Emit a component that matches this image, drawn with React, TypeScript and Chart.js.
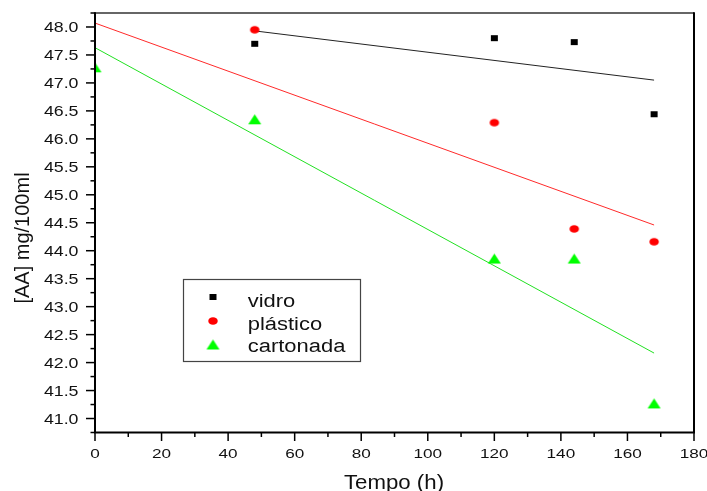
import React, { useEffect, useRef } from "react";
import { Chart, registerables } from "chart.js";

Chart.register(...registerables);

// ---- data ----
const vidroHours = [48, 120, 144, 168];
const vidroValues = [47.7, 47.8, 47.73, 46.44];
const plasticoHours = [48, 120, 144, 168];
const plasticoValues = [47.95, 46.29, 44.39, 44.16];
const cartonadaHours = [0, 48, 120, 144, 168];
const cartonadaValues = [47.28, 46.35, 43.86, 43.86, 41.27];

// linear fits (end points)
const vidroFitHours = [48, 168];
const vidroFitValues = [47.93, 47.05];
const plasticoFitHours = [0, 168];
const plasticoFitValues = [48.07, 44.46];
const cartonadaFitHours = [0, 168];
const cartonadaFitValues = [47.63, 42.17];

const seriesNames = ["vidro", "plástico", "cartonada"];
const xTickLabels = ["0", "20", "40", "60", "80", "100", "120", "140", "160", "180"];
const yTickLabels = ["41.0", "41.5", "42.0", "42.5", "43.0", "43.5", "44.0", "44.5", "45.0", "45.5", "46.0", "46.5", "47.0", "47.5", "48.0"];
const xTitle = "Tempo (h)";
const yTitle = "[AA] mg/100ml";

const FONT = "'Liberation Sans', Arial, sans-serif";

function toPoints(xs: number[], ys: number[]) {
  return xs.map((x, i) => ({ x, y: ys[i] }));
}

function makeMarker(kind: string, color: string, w: number, h: number) {
  const c = document.createElement("canvas");
  c.width = Math.ceil(w) + 2;
  c.height = Math.ceil(h) + 2;
  const ctx = c.getContext("2d")!;
  ctx.fillStyle = color;
  const cx = c.width / 2;
  const cy = c.height / 2;
  if (kind === "rect") {
    ctx.fillRect(cx - w / 2, cy - h / 2, w, h);
  } else if (kind === "ellipse") {
    ctx.beginPath();
    ctx.ellipse(cx, cy, w / 2, h / 2, 0, 0, Math.PI * 2);
    ctx.fill();
  } else {
    ctx.beginPath();
    ctx.moveTo(cx, cy - h / 2);
    ctx.lineTo(cx + w / 2, cy + h / 2);
    ctx.lineTo(cx - w / 2, cy + h / 2);
    ctx.closePath();
    ctx.fill();
  }
  return c;
}

function stretchText(
  ctx: CanvasRenderingContext2D,
  text: string,
  x: number,
  y: number,
  sx: number,
  align: CanvasTextAlign,
  font: string
) {
  ctx.save();
  ctx.translate(x, y);
  ctx.scale(sx, 1);
  ctx.font = font;
  ctx.textAlign = align;
  ctx.textBaseline = "alphabetic";
  ctx.fillText(text, 0, 0);
  ctx.restore();
}

export default function App() {
  const ref = useRef<HTMLCanvasElement | null>(null);

  useEffect(() => {
    const canvas = ref.current;
    if (!canvas) return;

    const sq = makeMarker("rect", "#000000", 7, 6);
    const circ = makeMarker("ellipse", "#ff0000", 9.5, 7.5);
    const tri = makeMarker("tri", "#00ff00", 13, 10);
    const markers = [sq, circ, tri];

    const decor = {
      id: "decor",
      afterDraw(chart: any) {
        const ctx: CanvasRenderingContext2D = chart.ctx;
        const a = chart.chartArea;
        const xs = chart.scales.x;
        const ys = chart.scales.y;
        ctx.save();

        // frame
        ctx.strokeStyle = "#333";
        ctx.lineWidth = 1.5;
        ctx.beginPath();
        ctx.moveTo(a.left, a.top);
        ctx.lineTo(a.right, a.top);
        ctx.stroke();
        ctx.strokeStyle = "#000";
        ctx.lineWidth = 2;
        ctx.beginPath();
        ctx.moveTo(a.right, a.top - 0.75);
        ctx.lineTo(a.right, a.bottom);
        ctx.stroke();
        ctx.beginPath();
        ctx.moveTo(a.left, a.top - 0.75);
        ctx.lineTo(a.left, a.bottom);
        ctx.lineTo(a.right + 1, a.bottom);
        ctx.stroke();

        // y ticks
        ctx.lineWidth = 1.5;
        for (let v = 40.75; v <= 48.2501; v += 0.25) {
          const py = ys.getPixelForValue(v);
          const major = Math.abs(v * 2 - Math.round(v * 2)) < 1e-6;
          ctx.beginPath();
          ctx.moveTo(a.left - (major ? 9 : 4.5), py);
          ctx.lineTo(a.left, py);
          ctx.stroke();
        }
        // x ticks
        for (let v = 0; v <= 180; v += 10) {
          const px = xs.getPixelForValue(v);
          const major = v % 20 === 0;
          ctx.beginPath();
          ctx.moveTo(px, a.bottom);
          ctx.lineTo(px, a.bottom + (major ? 8.5 : 4.5));
          ctx.stroke();
        }

        ctx.fillStyle = "#111";
        // y labels
        yTickLabels.forEach((lab) => {
          const py = ys.getPixelForValue(parseFloat(lab));
          stretchText(ctx, lab, a.left - 16.5, py + 5, 1.27, "right", `14px ${FONT}`);
        });
        // x labels
        xTickLabels.forEach((lab) => {
          const px = xs.getPixelForValue(parseFloat(lab));
          stretchText(ctx, lab, px, 458.3, 1.27, "center", `13.5px ${FONT}`);
        });
        // titles
        stretchText(ctx, xTitle, 394, 489, 1.14, "center", `19.5px ${FONT}`);
        ctx.save();
        ctx.translate(29, 238);
        ctx.rotate(-Math.PI / 2);
        ctx.font = `20px ${FONT}`;
        ctx.textAlign = "center";
        ctx.textBaseline = "alphabetic";
        ctx.fillText(yTitle, 0, 0);
        ctx.restore();

        // legend
        ctx.fillStyle = "#fff";
        ctx.fillRect(183.5, 279.5, 177, 82);
        ctx.strokeStyle = "#444";
        ctx.lineWidth = 1.2;
        ctx.strokeRect(183.5, 279.5, 177, 82);
        const rowsY = [297, 321, 344.5];
        const baseY = [307, 329.5, 352];
        seriesNames.forEach((name, i) => {
          const m = markers[i];
          ctx.drawImage(m, 213 - m.width / 2, rowsY[i] - m.height / 2);
          ctx.fillStyle = "#111";
          stretchText(ctx, name, 247.7, baseY[i], 1.22, "left", `18px ${FONT}`);
        });
        ctx.restore();
      },
    };

    const chart = new Chart(canvas, {
      type: "scatter",
      data: {
        datasets: [
          {
            label: seriesNames[0],
            data: toPoints(vidroHours, vidroValues),
            pointStyle: sq as any,
            showLine: false,
            clip: 0,
            order: 0,
          },
          {
            label: seriesNames[1],
            data: toPoints(plasticoHours, plasticoValues),
            pointStyle: circ as any,
            showLine: false,
            clip: 0,
            order: 0,
          },
          {
            label: seriesNames[2],
            data: toPoints(cartonadaHours, cartonadaValues),
            pointStyle: tri as any,
            showLine: false,
            clip: 0,
            order: 0,
          },
          {
            label: "vidro fit",
            data: toPoints(vidroFitHours, vidroFitValues),
            showLine: true,
            borderColor: "#222222",
            borderWidth: 1,
            pointRadius: 0,
            order: 1,
          },
          {
            label: "plástico fit",
            data: toPoints(plasticoFitHours, plasticoFitValues),
            showLine: true,
            borderColor: "#ff2a2a",
            borderWidth: 1,
            pointRadius: 0,
            order: 1,
          },
          {
            label: "cartonada fit",
            data: toPoints(cartonadaFitHours, cartonadaFitValues),
            showLine: true,
            borderColor: "#22e022",
            borderWidth: 1,
            pointRadius: 0,
            order: 1,
          },
        ],
      },
      options: {
        animation: false,
        responsive: false,
        devicePixelRatio: 1,
        layout: { padding: { top: 13, right: 13, left: 0, bottom: 0 } },
        plugins: { legend: { display: false }, tooltip: { enabled: false } },
        scales: {
          x: {
            type: "linear",
            min: 0,
            max: 180,
            ticks: { display: false },
            grid: { display: false, drawTicks: false },
            border: { display: false },
            afterFit: (s: any) => {
              s.height = 58.5;
            },
          },
          y: {
            type: "linear",
            min: 40.75,
            max: 48.25,
            ticks: { display: false },
            grid: { display: false, drawTicks: false },
            border: { display: false },
            afterFit: (s: any) => {
              s.width = 95;
            },
          },
        },
      },
      plugins: [decor],
    } as any);

    return () => chart.destroy();
  }, []);

  return (
    <div style={{ position: "absolute", left: 0, top: 0, width: 707, height: 491, background: "#fff" }}>
      <canvas ref={ref} width={707} height={491} />
    </div>
  );
}
